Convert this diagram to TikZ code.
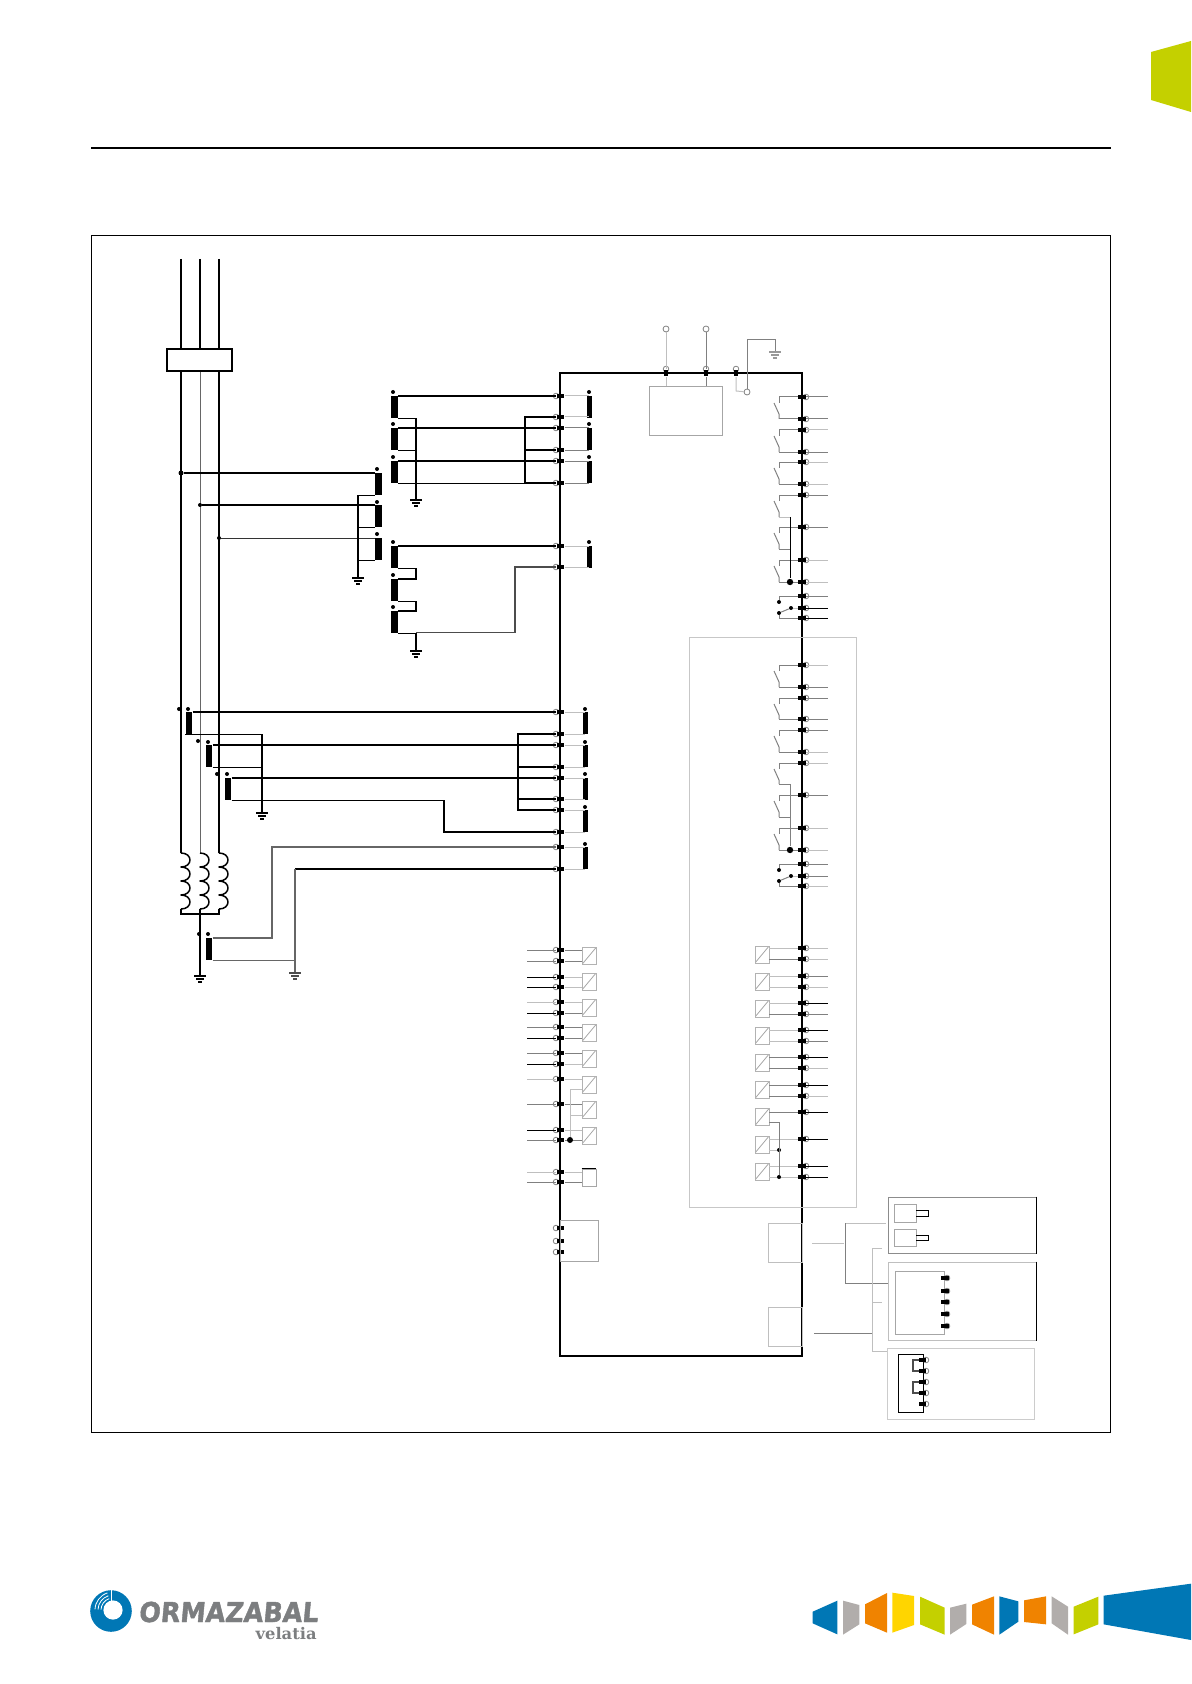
\documentclass[tikz,border=0pt]{standalone}
\usepackage{fontspec}
\setmainfont{Liberation Sans}
\newfontfamily\brandfont[BoldFont={DejaVu Sans Bold},BoldFeatures={FakeBold=1.6,FakeSlant=0.1}]{DejaVu Sans}
\newfontfamily\subfont{DejaVu Serif}
\definecolor{brandblue}{HTML}{0077B5}
\definecolor{brandgray}{HTML}{B1ADAB}
\definecolor{brandorange}{HTML}{F08300}
\definecolor{brandyellow}{HTML}{FFD500}
\definecolor{brandgreen}{HTML}{C4D000}
\definecolor{logogray}{HTML}{7C7E80}
\tikzset{
	hvwire/.style={draw=black,line width=.75pt},
	bwire/.style={draw=black,line width=.5pt},
	mwire/.style={draw=black!50,line width=.5pt},
	lwire/.style={draw=black!25,line width=.5pt},
	ctbar/.style={draw=none,fill=black,minimum width=3.3pt,minimum height=10.75pt,inner sep=0pt},
	ctdot/.style={circle,fill=black,inner sep=0pt,minimum size=2pt},
	jointdot/.style={circle,fill=black,inner sep=0pt,minimum size=2.5pt},
	term/.style={draw=none,fill=black,minimum width=3.8pt,minimum height=1.9pt,inner sep=0pt},
	vterm/.style={draw=none,fill=black,minimum width=1.9pt,minimum height=3.4pt,inner sep=0pt},
	ring/.style={circle,draw=black!50,line width=.4pt,inner sep=0pt,minimum size=2.8pt},
	optobox/.style={draw=black!30,line width=.4pt,minimum width=7pt,minimum height=8.4pt,inner sep=0pt,
		path picture={\draw[black!35,line width=.4pt] (path picture bounding box.south west) -- (path picture bounding box.north east);}},
	plainbox/.style={draw=black!35,line width=.4pt,inner sep=0pt},
	pics/gnd/.style={code={
		\draw[line width=.7pt] (-6,0) -- (6,0);
		\draw[line width=.7pt] (-4,3) -- (4,3);
		\draw[line width=.7pt] (-2,6) -- (2,6);
	}},
	pics/coil/.style={code={
		\draw[hvwire,line join=round] (0,0) .. controls (12,0) and (12,14) .. (0,14) .. controls (12,14) and (12,28) .. (0,28)
			.. controls (12,28) and (12,42) .. (0,42) .. controls (12,42) and (12,56) .. (0,56);
	}}
}

\begin{document}
\begin{tikzpicture}[x=.5pt,y=-.5pt]
	\useasboundingbox (0,0) rectangle (1191,1684);

	% Page furniture
	\fill[brandgreen] (1151,52) -- (1191,41) -- (1191,112) -- (1151,100) -- cycle;
	\draw[line width=1pt] (91,148) -- (1110.5,148);
	\node[draw=black,line width=.45pt,minimum width=509.5pt,minimum height=598.5pt,inner sep=0pt] (frame) at (600.75,833.5) {};

	% Phases
	\coordinate (pa0) at (181,259);
	\coordinate (pb0) at (200,259);
	\coordinate (pc0) at (219,259);
	\coordinate (pa1) at (181,853);
	\coordinate (pb1) at (200,853);
	\coordinate (pc1) at (219,853);
	\coordinate (pa2) at (181,914);
	\coordinate (pb2) at (200,914);
	\coordinate (pc2) at (219,914);
	\coordinate (pb3) at (200,976);
	\draw[hvwire] (pa0) -- (pa1);
	\draw[hvwire] (pc0) -- (pc1);
	\draw[hvwire] (pb0) -- (200,349);
	\draw[draw=black!60,line width=.5pt] (200,371) -- (pb1);
	\pic at (pa1) {coil};
	\pic at (pb1) {coil};
	\pic at (pc1) {coil};
	\draw[hvwire] (181,909) -- (pa2) -- (pc2) -- (219,909);
	\draw[hvwire] (200,909) -- (pb3);
	\pic at (pb3) {gnd};
	\node[draw=black,line width=.7pt,fill=white,minimum width=32.5pt,minimum height=11pt,inner sep=0pt] (core) at (199.5,360) {};

	% Main relay outline
	\node[draw=black,line width=.75pt,minimum width=121pt,minimum height=491.5pt,inner sep=0pt] (relay) at (681,864.5) {};

	% Voltage transformers
	\foreach \y in {473,505,538}
		\node[ctbar,anchor=north] (va\y) at (378.5,\y) {};
	\foreach \y in {469,502,534}
		\node[ctdot] at (377,\y) {};
	\foreach \y in {396,428,461,546,579,611}
		\node[ctbar,anchor=north] (vb\y) at (394.5,\y) {};
	\foreach \y in {392,424,457,542,575,607}
		\node[ctdot] at (393,\y) {};

	% Current transformers
	\node[ctbar,anchor=north] (ca) at (189,712) {};
	\node[ctbar,anchor=north] (cb) at (209,745) {};
	\node[ctbar,anchor=north] (cc) at (228,778) {};
	\node[ctbar,anchor=north] (cn) at (209,938) {};
	\foreach \x/\y in {188/709,208/742,227/774,208/934,179/709,198/741,217/774,199/934}
		\node[ctdot] at (\x,\y) {};

	% Terminals on the left side
	\foreach \y in {396,417,428,450,461,483,546,567,712,734,745,767,778,799,810,832,847,869,950,961,977,987,1002,1013,1027,1038,1053,1064,1079,1104,1130,1140,1172,1182,1228,1241,1252} {
		\node[ring] at (556,\y) {};
		\node[term] (lt\y) at (560.5,\y) {};
	}

	% Terminals on the right side
	\foreach \y in {397,419,430,452,462,484,495,527,560,582,596,608,618,665,687,698,719,730,752,763,795,828,850,864,876,886,948,959,976,987,1003,1014,1030,1041,1057,1068,1085,1096,1112,1139,1166,1177} {
		\node[ring] at (806,\y) {};
		\node[term] (rt\y) at (802,\y) {};
	}

	% Terminals on the top side
	\foreach \x in {666,706,736} {
		\node[ring] at (\x,369) {};
		\node[vterm] (tt\x) at (\x,373) {};
	}

	% Internal transformers
	\foreach \y in {396,428,461,546}
		\node[ctbar,anchor=north,minimum width=2.7pt] (ib\y) at (589.5,\y) {};
	\foreach \y in {392,424,457,542}
		\node[ctdot] at (589,\y) {};
	\foreach \y in {712,745,778,810,847}
		\node[ctbar,anchor=north,minimum width=2.7pt] (ic\y) at (585.5,\y) {};
	\foreach \y in {709,742,774,807,844}
		\node[ctdot] at (585,\y) {};
	\foreach \a/\b/\w in {396/417/lwire,428/450/mwire,461/483/mwire,546/567/lwire} {
		\draw[\w] (lt\a) -- (589,\a);
		\draw[\w] (lt\b) -- (589,\b);
	}
	\foreach \a/\b in {712/734,745/767,778/799,810/832,847/869} {
		\draw[lwire] (lt\a) -- (585,\a);
		\draw[lwire] (lt\b) -- (585,\b);
	}

	% Voltage wiring
	\coordinate (ga) at (358,578);
	\coordinate (gb) at (416,500);
	\coordinate (gc) at (416,651);
	\node[jointdot] (ja) at (181,473) {};
	\node[jointdot,minimum size=2pt] (jb) at (200,505) {};
	\node[jointdot,minimum size=2pt] (jc) at (219,538) {};
	\draw[hvwire] (ja) -- (va473.north west);
	\draw[hvwire] (jb) -- (va505.north west);
	\draw[draw=black!80,line width=.5pt] (jc) -- (va538.north west);
	\draw[hvwire] (va473.south west) -| (ga);
	\draw[hvwire] (va505.south west) -| (ga);
	\draw[hvwire] (va538.south west) -| (ga);
	\pic at (ga) {gnd};
	\draw[hvwire] (vb396.north east) -- (lt396);
	\draw[hvwire] (vb396.south east) -| (gb);
	\draw[hvwire] (vb428.north east) -- (lt428);
	\draw[hvwire] (vb428.south east) -| (gb);
	\draw[hvwire] (vb461.north east) -- (lt461);
	\draw[hvwire] (vb461.south east) -| (525,483) -- (lt483);
	\draw[hvwire] (lt417) -- (525,417) -- (525,483);
	\draw[hvwire] (525,450) -- (lt450);
	\pic at (gb) {gnd};
	\draw[hvwire] (vb546.north east) -- (lt546);
	\draw[hvwire] (vb546.south east) -| (416,579) -- (vb579.north east);
	\draw[hvwire] (vb579.south east) -| (416,611) -- (vb611.north east);
	\draw[hvwire] (vb611.south east) -| (gc);
	\draw[draw=black!70,line width=.6pt] (416,632.5) -- (515,632.5) -- (515,567) -- (lt567);
	\pic at (gc) {gnd};

	% Current wiring
	\coordinate (gd) at (262,813);
	\coordinate (ge) at (295,973);
	\draw[hvwire] (ca.north east) -- (lt712);
	\draw[hvwire] (ca.south west) -| (gd);
	\draw[hvwire] (cb.north east) -- (lt745);
	\draw[hvwire] (cb.south east) -| (gd);
	\draw[hvwire] (cc.north east) -- (lt778);
	\draw[hvwire] (cc.south east) -| (444,832) -- (lt832);
	\draw[hvwire] (lt734) -- (518,734) -- (518,810) -- (lt810);
	\draw[hvwire] (518,767) -- (lt767);
	\draw[hvwire] (518,799) -- (lt799);
	\pic at (gd) {gnd};
	\draw[draw=black!60,line width=.6pt] (cn.north east) -- (272,938) -- (272,847) -- (lt847);
	\draw[draw=black!60,line width=.6pt] (cn.south east) -| (ge);
	\draw[hvwire] (295,869) -- (lt869);
	\draw[draw=black!60,line width=.6pt] (295,869) -- (295,960);
	\pic[black!70] at (ge) {gnd};

	% Supply and earth
	\node[ring,minimum size=3pt] (sa) at (666,329) {};
	\node[ring,minimum size=3pt] (sb) at (706,329) {};
	\node[ring,minimum size=3pt] (sc) at (747,392) {};
	\node[plainbox,minimum width=36.5pt,minimum height=24.5pt] (psu) at (685.5,410.5) {};
	\coordinate (ge0) at (775,352);
	\draw[lwire] (sa) -- (tt666);
	\draw[mwire] (sb) -- (tt706);
	\draw[lwire] (tt666) -- (666,386);
	\draw[mwire] (tt706) -- (706,386);
	\draw[lwire] (tt736) -- (736,391) -- (sc);
	\draw[mwire] (sc) -- (747,340) -- (775,340) -- (ge0);
	\pic[black!40] at (ge0) {gnd};

	% Output contacts
	\foreach \a/\b in {397/419,430/452,462/484,495/517,527/549,560/582,665/687,698/719,730/752,763/784,795/817,828/850} {
		\coordinate (kb\a) at (779,\a+17);
		\draw[mwire] (779,\a+6) -- (779,\a);
		\draw[mwire] (774,\a+6) -- (kb\a) -- (779,\b);
	}
	\foreach \a in {397,430,462,495,527,560,665,698,730,763,795,828}
		\draw[mwire] (rt\a) -- (779,\a);
	\foreach \b in {419,452,484,582,687,719,752,850}
		\draw[mwire] (rt\b) -- (779,\b);
	\node[jointdot,minimum size=3.2pt] (ja1) at (790,582) {};
	\node[jointdot,minimum size=3.2pt] (ja2) at (790,850) {};
	\draw[lwire] (779,517) -- (790,517);
	\draw[bwire] (790,517) -- (ja1);
	\draw[mwire] (779,549) -- (790,549);
	\draw[mwire] (779,784) -- (790,784) -- (ja2);
	\draw[mwire] (779,817) -- (790,817);

	% Changeover contacts
	\foreach \a/\b/\c in {596/608/618,864/876/886} {
		\node[ctdot] (cha\a) at (779,\a+6) {};
		\node[ctdot] (chb\a) at (779,\b+5) {};
		\node[ctdot] (chc\a) at (791,\b) {};
		\draw[mwire] (rt\a) -- (779,\a) -- (cha\a);
		\draw[mwire] (chb\a) -- (chc\a);
		\draw[lwire] (chc\a) -- (rt\b);
		\draw[mwire] (chb\a) -- (779,\c) -- (rt\c);
	}

	% Outgoing wires on the right
	\foreach \y/\w in {397/mwire,419/mwire,430/lwire,452/mwire,462/lwire,484/lwire,495/mwire,527/mwire,560/lwire,582/lwire,596/mwire,608/bwire,618/bwire,665/lwire,687/mwire,698/mwire,719/mwire,730/mwire,752/lwire,763/lwire,795/mwire,828/lwire,850/lwire,864/mwire,876/mwire,886/lwire,948/lwire,959/lwire,976/mwire,987/lwire,1003/bwire,1014/mwire,1030/bwire,1041/mwire,1057/bwire,1068/lwire,1085/bwire,1096/lwire,1112/bwire,1139/bwire,1166/bwire,1177/bwire} {
		\coordinate (ro\y) at (828,\y);
		\draw[\w] (rt\y) -- (ro\y);
	}

	% Binary inputs on the right
	\foreach \a/\b/\c in {946/963/948,973/990/976,1000/1017/1003,1027/1044/1030,1054/1071/1057,1082/1098/1085,1109/1125/1112,1136/1153/1139,1163/1180/1166}
		\node[optobox] (ob\c) at (762,{(\a+\b)/2}) {};
	\foreach \y/\w in {948/lwire,959/mwire,976/lwire,987/lwire,1003/lwire,1014/mwire,1030/lwire,1041/lwire,1057/mwire,1068/mwire,1085/mwire,1096/mwire,1112/mwire,1139/lwire,1166/lwire,1177/lwire}
		\draw[\w] (769,\y) -- (rt\y);
	\node[ctdot] (jr1) at (779,1150) {};
	\node[ctdot] (jr2) at (779,1177) {};
	\draw[mwire] (769,1122) -- (779,1122) -- (jr2);
	\draw[lwire] (769,1150) -- (jr1);

	% Binary inputs on the left
	\foreach \a/\b/\c in {948/964/950,973/990/977,999/1016/1002,1024/1042/1027,1050/1067/1053,1076/1093/1079,1101/1118/1104,1127/1144/1130}
		\node[optobox] (lo\c) at (589,{(\a+\b)/2}) {};
	\foreach \y/\w in {950/mwire,961/mwire,977/lwire,987/lwire,1002/lwire,1013/mwire,1027/mwire,1038/mwire,1053/mwire,1064/lwire,1079/lwire,1104/mwire,1130/lwire,1140/mwire,1172/lwire,1182/mwire}
		\draw[\w] (lt\y) -- (582,\y);
	\foreach \y/\w in {950/mwire,961/mwire,977/bwire,987/bwire,1002/lwire,1013/bwire,1027/mwire,1038/bwire,1053/mwire,1064/bwire,1079/lwire,1104/mwire,1130/bwire,1140/mwire,1172/lwire,1182/mwire} {
		\coordinate (li\y) at (527,\y);
		\draw[\w] (li\y) -- (lt\y);
	}
	\node[jointdot,minimum size=3pt] (jl) at (570,1140) {};
	\draw[lwire] (582,1089) -- (570,1089) -- (jl);
	\draw[lwire] (582,1115) -- (570,1115);
	\node[plainbox,minimum width=7pt,minimum height=8.5pt] (lo1172) at (589,1177.5) {};
	\draw[bwire] (lo1172.north west) -- (lo1172.north east);
	\node[plainbox,minimum width=19pt,minimum height=20.5pt] (comm) at (579,1240.5) {};

	% Extension boxes
	\node[draw=black!25,line width=.4pt,minimum width=17pt,minimum height=19.5pt,inner sep=0pt] (ra) at (785,1242.5) {};
	\node[draw=black!25,line width=.4pt,minimum width=17pt,minimum height=19.5pt,inner sep=0pt] (rb) at (785,1326.5) {};
	\node[draw=black!22,line width=.4pt,minimum width=83.5pt,minimum height=285pt,inner sep=0pt] (extra) at (772.5,922) {};

	% Modules
	\node[draw=black!45,line width=.5pt,minimum width=74pt,minimum height=28pt,inner sep=0pt] (moda) at (962,1225) {};
	\draw[black,line width=.5pt] (moda.north east) -- (moda.south east);
	\node[draw=black!25,line width=.5pt,minimum width=74pt,minimum height=39pt,inner sep=0pt] (modb) at (962,1301) {};
	\draw[black,line width=.5pt] (modb.north east) -- (modb.south east);
	\node[draw=black!20,line width=.5pt,minimum width=73.5pt,minimum height=35.5pt,inner sep=0pt] (modc) at (960.5,1383.5) {};
	\node[plainbox,minimum width=11pt,minimum height=9pt] (sqa) at (905,1213) {};
	\node[plainbox,minimum width=11pt,minimum height=8.5pt] (sqb) at (905,1237.5) {};
	\draw[bwire] (916,1210) -- (928,1210) -- (928,1216) -- (916,1216);
	\draw[bwire] (916,1235) -- (928,1235) -- (928,1240) -- (916,1240);
	\node[plainbox,minimum width=24.5pt,minimum height=31.5pt] (inb) at (919.5,1302.5) {};
	\foreach \y in {1278,1291,1302,1314,1326} {
		\node[ring] at (947,\y) {};
		\node[term] (mb\y) at (945,\y) {};
	}
	\node[draw=black,line width=.5pt,minimum width=12.5pt,minimum height=29pt,inner sep=0pt] (inc) at (910.5,1383) {};
	\foreach \y in {1360,1371,1382,1393,1404} {
		\node[ring] at (926,\y) {};
		\node[term,minimum width=3.2pt] (mc\y) at (922.5,\y) {};
	}
	\draw[draw=black!70,line width=.7pt] (mc1360) -- (913,1360) -- (913,1371) -- (mc1371);
	\draw[draw=black!70,line width=.7pt] (mc1382) -- (913,1382) -- (913,1393) -- (mc1393);

	% Links to the modules
	\coordinate (la) at (812,1243);
	\coordinate (lb) at (814,1333);
	\coordinate (lc) at (845,1223);
	\coordinate (ld) at (872,1248);
	\coordinate (le) at (872,1351);
	\draw[lwire] (la) -- (844,1243);
	\draw[lwire] (lc) -- (886,1223);
	\draw[mwire] (lc) -- (845,1283) -- (modb.west |- 845,1283);
	\draw[lwire] (882,1248) -- (ld) -- (le) -- (modc.west |- le);
	\draw[lwire] (872,1302) -- (882,1302);
	\draw[mwire] (lb) -- (872,1333);

	% Logo
	\coordinate (hole) at (113,1610);
	\fill[brandblue] (111,1611) circle (10.4pt);
	\fill[white] (hole) circle (4.8pt);
	\fill[white] (110.5,1588) rectangle (112,1601);
	\foreach \r in {6pt,7.5pt,9pt}
		\draw[white,line width=.4pt] (hole) ++(178:\r) arc[start angle=178,end angle=108,radius=\r];
	\node[text=logogray,font=\brandfont\bfseries,inner sep=0pt,anchor=base west,xscale=1.27,yscale=1.37] (brand) at (138,1622) {ORMAZABAL};
	\node[text=logogray,font=\subfont\bfseries\footnotesize,inner sep=0pt,anchor=base east,xscale=1.02] (sub) at (317,1639) {velatia};

	% Brand strip
	\begin{scope}[shift={(800,1570)},xscale=1/3,yscale=1/3]
		\fill[brandblue] (38,125) -- (112,92) -- (112,193) -- (38,160) -- cycle;
		\fill[brandgray] (129,92) -- (178,105) -- (178,163) -- (129,194) -- cycle;
		\fill[brandorange] (195,103) -- (261,69) -- (261,188) -- (195,160) -- cycle;
		\fill[brandyellow] (277,68) -- (342,78) -- (342,165) -- (277,188) -- cycle;
		\fill[brandgreen] (360,80) -- (434,113) -- (434,194) -- (360,163) -- cycle;
		\fill[brandgray] (450,113) -- (499,101) -- (499,162) -- (450,194) -- cycle;
		\fill[brandorange] (516,104) -- (582,79) -- (582,194) -- (516,163) -- cycle;
		\fill[brandblue] (598,79) -- (655,94) -- (655,155) -- (598,194) -- cycle;
		\fill[brandorange] (672,91) -- (738,79) -- (738,163) -- (672,156) -- cycle;
		\fill[brandgray] (755,79) -- (804,110) -- (804,194) -- (755,160) -- cycle;
		\fill[brandgreen] (821,110) -- (895,80) -- (895,163) -- (821,193) -- cycle;
		\fill[brandblue] (911,77) -- (1173,41) -- (1173,210) -- (911,163) -- cycle;
	\end{scope}
\end{tikzpicture}
\end{document}
